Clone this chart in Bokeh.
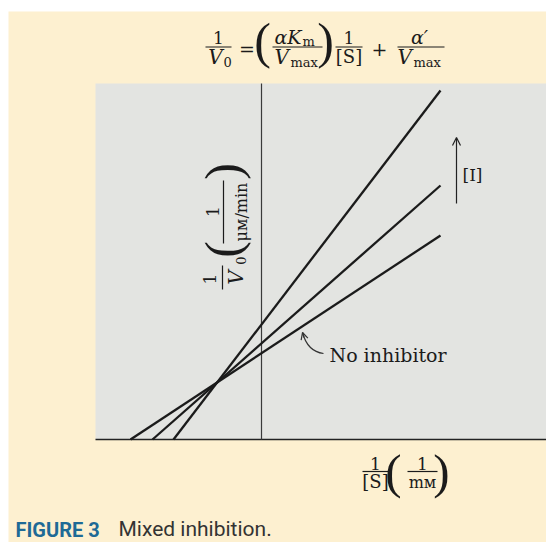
import math

from bokeh.plotting import figure
from bokeh.models import Range1d, Label, Arrow, OpenHead
from bokeh.embed import file_html
from bokeh.resources import INLINE

# Double-reciprocal (Lineweaver-Burk) lines for mixed inhibition.
# Each line runs from its x-intercept (1/V0 = 0) out to the right end.
series = ["high [I]", "low [I]", "no inhibitor"]
inv_s_intercept = [-0.88, -1.09, -1.31]   # 1/[S] at 1/V0 = 0   (1/mM)
inv_s_end = [1.79, 1.79, 1.79]            # 1/[S] at the right end (1/mM)
inv_v_end = [3.49, 2.54, 2.04]            # 1/V0 at the right end (1/(uM/min))

# ---- page geometry (pixels) -------------------------------------------
W, H = 546, 542
OX, OY = 261, 439      # where the two axes cross
PX_PER_UNIT = 100.0


def X(px):
    return (px - OX) / PX_PER_UNIT


def Y(py):
    return (OY - py) / PX_PER_UNIT


SERIF = "DejaVu Serif"
PAREN = "Liberation Serif"
SANS = "Roboto"
INK = "#1b1b1b"
YELLOW = "#fdf0d0"
PANEL = "#e3e4e1"
BASE_SHIFT = 0.34      # label anchor offset (fraction of font size) to land on the baseline

p = figure(
    width=W, height=H,
    x_range=Range1d(X(0), X(W)), y_range=Range1d(Y(H), Y(0)),
    x_axis_location=None, y_axis_location=None,
    output_backend="svg", toolbar_location=None,
    min_border=0, background_fill_color="white", border_fill_color="white",
)
p.grid.visible = False
p.outline_line_color = None

# page tint and plot panel
p.quad(left=X(8), right=X(W), bottom=Y(H), top=Y(11), fill_color=YELLOW, line_color=None)
p.quad(left=X(95), right=X(W), bottom=Y(OY), top=Y(83), fill_color=PANEL, line_color=None)

# axes
p.segment(x0=X(95), y0=0, x1=X(W), y1=0, line_color="#222222", line_width=1.6)
p.segment(x0=0, y0=0, x1=0, y1=Y(83), line_color="#3a3a3a", line_width=1.2)

# data lines
p.segment(x0=inv_s_intercept, y0=[0.0] * len(series), x1=inv_s_end, y1=inv_v_end,
          line_color=INK, line_width=2.3)


def txt(px, py, s, size=18, style="normal", align="left", angle=0.0,
        font=SERIF, color=INK):
    """Place text with its baseline at (px, py) in page pixels."""
    if angle:
        px -= BASE_SHIFT * size
    else:
        py -= BASE_SHIFT * size
    p.add_layout(Label(x=X(px), y=Y(py), text=s, text_font=font,
                       text_font_size=f"{size}px", text_font_style=style,
                       text_align=align, text_baseline="alphabetic", angle=angle,
                       text_color=color))


def hbar(px0, px1, py, w=1.2):
    p.segment(x0=X(px0), y0=Y(py), x1=X(px1), y1=Y(py), line_color=INK, line_width=w)


def vbar(px, py0, py1, w=1.2):
    p.segment(x0=X(px), y0=Y(py0), x1=X(px), y1=Y(py1), line_color=INK, line_width=w)


# ---- equation above the panel -----------------------------------------
txt(218, 43, "1", 17, align="center")
hbar(205, 231, 46.5)
txt(215, 63, "V", 20, "italic", align="center")
txt(223, 66, "0", 13)
txt(246.5, 55, "=", 19, align="center")
txt(262, 57.5, "(", 50, align="center", font=PAREN)
txt(274, 43, "αK", 19, "italic")
txt(302, 45.5, "m", 13)
hbar(272, 322, 46.5)
txt(274, 63, "V", 20, "italic")
txt(290, 66, "max", 13)
txt(325, 57.5, ")", 50, align="center", font=PAREN)
txt(348.5, 43, "1", 17, align="center")
hbar(335, 362, 46.5)
txt(348.5, 62, "[S]", 18, align="center")
txt(379, 55, "+", 19, align="center")
txt(419, 43, "α′", 19, "italic", align="center")
hbar(397, 444, 46.5)
txt(397, 63, "V", 20, "italic")
txt(413, 66, "max", 13)

# ---- vertical axis title (rotated) ------------------------------------
UP = math.pi / 2
txt(215, 278.5, "1", 17, align="center", angle=UP)
vbar(222, 265, 289)
txt(242, 277, "V", 20, "italic", align="center", angle=UP)
txt(245, 260, "0", 13, align="center", angle=UP)
txt(239, 249, "(", 50, align="center", angle=UP, font=PAREN)
txt(218, 211, "1", 17, align="center", angle=UP)
vbar(223, 180, 243)
txt(246, 211.5, "μᴍ/min", 16, align="center", angle=UP)
txt(239, 171, ")", 50, align="center", angle=UP, font=PAREN)

# ---- horizontal axis title --------------------------------------------
txt(375, 469, "1", 17, align="center")
hbar(362, 388, 471)
txt(375, 487, "[S]", 18, align="center")
txt(393, 488, "(", 49, align="center", font=PAREN)
txt(422, 469, "1", 17, align="center")
hbar(407, 437, 471)
txt(422, 487, "mᴍ", 16, align="center")
txt(441, 488, ")", 49, align="center", font=PAREN)

# ---- annotations -------------------------------------------------------
txt(329, 361, "No inhibitor", 19)
p.quadratic(x0=X(323), y0=Y(353), x1=X(302), y1=Y(332), cx=X(307), cy=Y(351),
            line_color="#333333", line_width=1.2)
p.add_layout(Arrow(x_start=X(303.5), y_start=Y(337), x_end=X(302), y_end=Y(332),
                   end=OpenHead(size=7, line_width=1.2, line_color="#333333"),
                   line_color="#333333", line_width=1.2))

p.add_layout(Arrow(x_start=X(456), y_start=Y(203), x_end=X(456), y_end=Y(137),
                   end=OpenHead(size=8, line_width=1.2, line_color="#222222"),
                   line_color="#222222", line_width=1.2))
txt(462, 180, "[I]", 17)

# ---- caption -----------------------------------------------------------
txt(15, 536, "FIGURE 3", 20, "bold", font=SANS, color="#1e6a96")
txt(118, 536, "Mixed inhibition.", 21, font=SANS, color="#333333")

open("out.html", "w").write(file_html(p, INLINE))
